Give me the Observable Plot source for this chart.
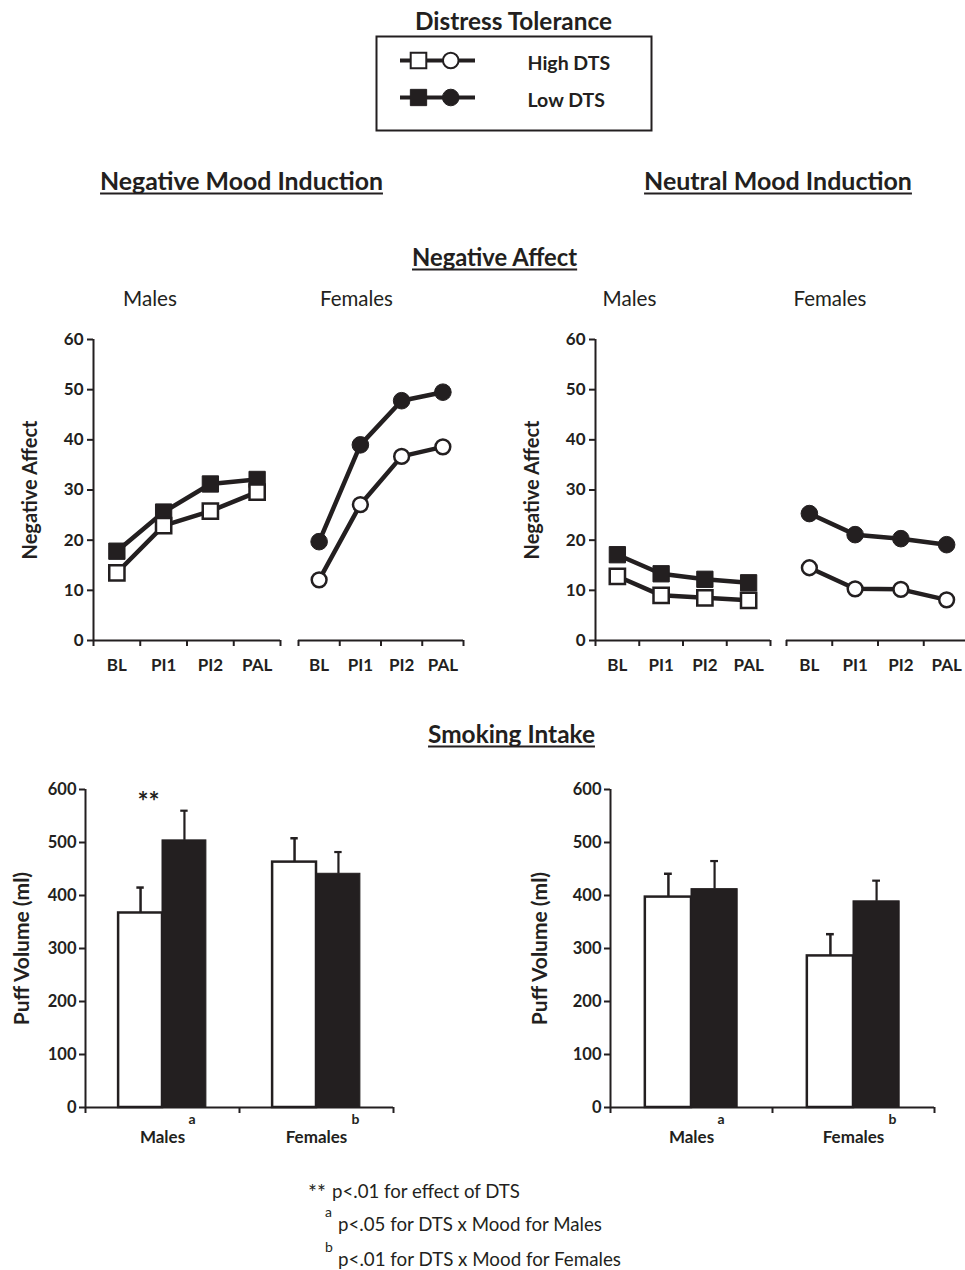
<!DOCTYPE html>
<html><head><meta charset="utf-8">
<script src="https://cdn.jsdelivr.net/npm/d3@7"></script>
<script src="https://cdn.jsdelivr.net/npm/@observablehq/plot@0.6"></script>
<style>
html,body{margin:0;padding:0;background:#fff;overflow:hidden}
#page{position:relative;width:965px;height:1270px;overflow:hidden;font-family:Lato,sans-serif;color:#231f20}
#page svg{position:absolute}
</style></head><body><div id="page"></div>
<script>
// ---------- data ----------
const timepoints = ["BL", "PI1", "PI2", "PAL"];
const dtsLevels = ["High DTS", "Low DTS"];
const affectTicks = [0, 10, 20, 30, 40, 50, 60];
// Negative mood induction – Negative Affect
const negMalesHigh = [13.5, 22.9, 25.8, 29.6];
const negMalesLow = [17.8, 25.6, 31.2, 32.1];
const negFemalesHigh = [12.1, 27.1, 36.7, 38.6];
const negFemalesLow = [19.7, 39.0, 47.8, 49.5];
// Neutral mood induction – Negative Affect
const neuMalesHigh = [12.8, 9.0, 8.5, 8.0];
const neuMalesLow = [17.1, 13.3, 12.2, 11.5];
const neuFemalesHigh = [14.5, 10.3, 10.2, 8.1];
const neuFemalesLow = [25.3, 21.1, 20.3, 19.1];
// Smoking intake – puff volume (ml)
const sexes = ["Males", "Females"];
const superscripts = ["a", "b"];
const puffTicks = [0, 100, 200, 300, 400, 500, 600];
const negPuffHigh = [367, 463];
const negPuffHighSE = [48, 45];
const negPuffLow = [504, 441];
const negPuffLowSE = [56, 41];
const neuPuffHigh = [397, 286];
const neuPuffHighSE = [44, 41];
const neuPuffLow = [412, 389];
const neuPuffLowSE = [53, 39];

// ---------- layout ----------
const INK = "#231f20";
const page = document.getElementById("page");
function place(node, left, top) {
  node.style.left = left + "px";
  node.style.top = top + "px";
  page.appendChild(node);
}
const baseStyle = {background: "transparent", overflow: "visible", fontFamily: "Lato, sans-serif", color: INK};

// overlay for headings and footnotes
const overlay = d3.create("svg").attr("width", 965).attr("height", 1270)
  .style("left", "0px").style("top", "0px").style("font-family", "Lato, sans-serif");
page.appendChild(overlay.node());
function addText(str, {x, y, size, weight = "normal", anchor = "start", width = null, underline = false}) {
  const t = overlay.append("text").attr("x", x).attr("y", y).attr("text-anchor", anchor)
    .attr("font-size", size).attr("font-weight", weight).attr("fill", INK).text(str);
  if (width) {
    const w = t.node().getComputedTextLength();
    t.attr("font-size", size * width / w);
  }
  if (underline) {
    const bb = t.node().getBBox();
    overlay.append("line").attr("x1", bb.x).attr("x2", bb.x + bb.width)
      .attr("y1", y + 3.5).attr("y2", y + 3.5).attr("stroke", INK).attr("stroke-width", 2);
  }
  return t;
}
addText("Distress Tolerance", {x: 513.5, y: 30, size: 24, weight: "bold", anchor: "middle", width: 197});
addText("Negative Mood Induction", {x: 241.5, y: 190, size: 24, weight: "bold", anchor: "middle", width: 283, underline: true});
addText("Neutral Mood Induction", {x: 778, y: 190, size: 24, weight: "bold", anchor: "middle", width: 268, underline: true});
addText("Negative Affect", {x: 494.5, y: 266, size: 24, weight: "bold", anchor: "middle", width: 165, underline: true});
addText("Smoking Intake", {x: 511.5, y: 743, size: 24, weight: "bold", anchor: "middle", width: 167, underline: true});
addText("Males", {x: 150, y: 306, size: 20, anchor: "middle", width: 54});
addText("Females", {x: 356.5, y: 306, size: 20, anchor: "middle", width: 73});
addText("Males", {x: 629.5, y: 306, size: 20, anchor: "middle", width: 54});
addText("Females", {x: 830, y: 306, size: 20, anchor: "middle", width: 73});
addText("**", {x: 308, y: 1200, size: 21});
addText("p<.01 for effect of DTS", {x: 332, y: 1198, size: 19, width: 188});
addText(superscripts[0], {x: 325, y: 1217, size: 14});
addText("p<.05 for DTS x Mood for Males", {x: 338, y: 1231, size: 19, width: 264});
addText(superscripts[1], {x: 325, y: 1252, size: 14});
addText("p<.01 for DTS x Mood for Females", {x: 338, y: 1266, size: 19, width: 283});

// ---------- legend ----------
const legendHigh = dtsLevels.filter((d, i) => i === 0);
const legendLow = dtsLevels.filter((d, i) => i === 1);
place(Plot.plot({
  width: 277, height: 96, margin: 0, style: baseStyle,
  x: {domain: [0, 1], range: [25, 100], axis: null},
  y: {type: "point", domain: dtsLevels, range: [25, 62], padding: 0, axis: null},
  marks: [
    Plot.frame({inset: 1, stroke: INK, strokeWidth: 2}),
    Plot.ruleY(dtsLevels, {y: d => d, x1: 0, x2: 1, stroke: INK, strokeWidth: 4}),
    Plot.dot(legendHigh, {x: 0.24, y: d => d, symbol: "square", r: 8.8, fill: "white", stroke: INK, strokeWidth: 2}),
    Plot.dot(legendHigh, {x: 0.67, y: d => d, symbol: "circle", r: 7.8, fill: "white", stroke: INK, strokeWidth: 2}),
    Plot.dot(legendLow, {x: 0.24, y: d => d, symbol: "square", r: 9.2, fill: INK, stroke: INK, strokeWidth: 1}),
    Plot.dot(legendLow, {x: 0.67, y: d => d, symbol: "circle", r: 8.3, fill: INK, stroke: INK, strokeWidth: 1}),
    Plot.text(dtsLevels, {x: 1, y: d => d, text: d => d, dx: 52, dy: 3, textAnchor: "start", fontSize: 19.5, fontWeight: "bold", fill: INK})
  ]
}), 375, 35);

// ---------- negative affect line panels ----------
function affectPanel(high, low, marker, o) {
  const rows = (vals, dts) => vals.map((v, i) => ({i, t: timepoints[i], v, dts}));
  const hi = rows(high, dtsLevels[0]), lo = rows(low, dtsLevels[1]);
  const X = d => d.i + 0.5;
  const sq = marker === "square";
  const marks = [
    Plot.ruleY([0], {stroke: INK, strokeWidth: 2}),
    Plot.axisX({ticks: d3.range(timepoints.length + 1), tickSize: 6, tickFormat: () => "", stroke: INK, strokeWidth: 2, label: null}),
    Plot.axisX({ticks: timepoints.map((_, i) => i + 0.5), tickSize: 0, tickPadding: 18, tickFormat: x => timepoints[Math.floor(x)],
      fontSize: 17, fontWeight: "bold", fill: INK, label: null})
  ];
  if (o.yAxis) {
    marks.push(
      Plot.ruleX([0], {stroke: INK, strokeWidth: 2}),
      Plot.axisY({ticks: affectTicks, tickSize: 6, tickPadding: 4, stroke: INK, strokeWidth: 2, fontSize: 17, fontWeight: "bold", fill: INK, label: null}),
      Plot.text(["Negative Affect"], {text: d => d, frameAnchor: "left", textAnchor: "middle", lineAnchor: "middle", rotate: -90, dx: o.labelDx, fontSize: 20, fontWeight: "bold", fill: INK})
    );
  }
  marks.push(
    Plot.line(lo, {x: X, y: "v", stroke: INK, strokeWidth: 4.5}),
    Plot.dot(lo, {x: X, y: "v", symbol: marker, r: sq ? 9.2 : 8.3, fill: INK, stroke: INK, strokeWidth: 1}),
    Plot.line(hi, {x: X, y: "v", stroke: INK, strokeWidth: 4.5}),
    Plot.dot(hi, {x: X, y: "v", symbol: marker, r: sq ? 8.6 : 7.4, fill: "white", stroke: INK, strokeWidth: 2.5})
  );
  return Plot.plot({
    width: o.w, height: 360, marginLeft: o.mL, marginRight: o.mR, marginTop: 19, marginBottom: 40,
    style: baseStyle,
    x: {domain: [0, timepoints.length], axis: null},
    y: {domain: [0, 60], axis: null},
    marks
  });
}
place(affectPanel(negMalesHigh, negMalesLow, "square", {w: 290, mL: 93, mR: 10, yAxis: true, labelDx: -63}), 0, 320);
place(affectPanel(negFemalesHigh, negFemalesLow, "circle", {w: 180, mL: 8, mR: 7, yAxis: false}), 290, 320);
place(affectPanel(neuMalesHigh, neuMalesLow, "square", {w: 280, mL: 95, mR: 10, yAxis: true, labelDx: -62.5}), 500, 320);
place(affectPanel(neuFemalesHigh, neuFemalesLow, "circle", {w: 195, mL: 8, mR: 4, yAxis: false}), 778, 320);

// ---------- puff volume bar panels ----------
function puffPanel(high, highSE, low, lowSE, o) {
  const W = 0.285, cap = 0.024;
  const hi = sexes.map((s, i) => ({i, s, v: high[i], se: highSE[i], sup: superscripts[i]}));
  const lo = sexes.map((s, i) => ({i, s, v: low[i], se: lowSE[i]}));
  const cHi = d => d.i + 0.5 - W / 2, cLo = d => d.i + 0.5 + W / 2;
  const marks = [
    Plot.rect(hi, {x1: d => d.i + 0.5 - W, x2: d => d.i + 0.5, y1: 0, y2: "v", fill: "white", stroke: INK, strokeWidth: 2.5}),
    Plot.rect(lo, {x1: d => d.i + 0.5, x2: d => d.i + 0.5 + W, y1: 0, y2: "v", fill: INK, stroke: INK, strokeWidth: 1}),
    Plot.ruleX(hi, {x: cHi, y1: "v", y2: d => d.v + d.se, stroke: INK, strokeWidth: 2.5}),
    Plot.ruleY(hi, {y: d => d.v + d.se, x1: d => cHi(d) - cap, x2: d => cHi(d) + cap, stroke: INK, strokeWidth: 2.5}),
    Plot.ruleX(lo, {x: cLo, y1: "v", y2: d => d.v + d.se, stroke: INK, strokeWidth: 2.2}),
    Plot.ruleY(lo, {y: d => d.v + d.se, x1: d => cLo(d) - cap, x2: d => cLo(d) + cap, stroke: INK, strokeWidth: 2.2}),
    Plot.ruleY([0], {stroke: INK, strokeWidth: 2}),
    Plot.ruleX([0], {stroke: INK, strokeWidth: 2}),
    Plot.axisY({ticks: puffTicks, tickSize: 6, tickPadding: 3, stroke: INK, strokeWidth: 2, fontSize: 16.5, fontWeight: "bold", fill: INK, label: null}),
    Plot.axisX({ticks: d3.range(sexes.length + 1), tickSize: 6, tickFormat: () => "", stroke: INK, strokeWidth: 2, label: null}),
    Plot.axisX({ticks: sexes.map((_, i) => i + 0.5), tickSize: 0, tickPadding: 23, tickFormat: x => sexes[Math.floor(x)],
      fontSize: 17, fontWeight: "bold", fill: INK, label: null}),
    Plot.text(hi.filter(d => d.i === 0), {x: d => d.i + 0.5, y: 0, text: "sup", dx: 26, dy: 16, textAnchor: "start", lineAnchor: "bottom", fontSize: 14, fontWeight: "bold", fill: INK}),
    Plot.text(hi.filter(d => d.i === 1), {x: d => d.i + 0.5, y: 0, text: "sup", dx: 35, dy: 16, textAnchor: "start", lineAnchor: "bottom", fontSize: 14, fontWeight: "bold", fill: INK}),
    Plot.text(["Puff Volume (ml)"], {text: d => d, frameAnchor: "left", textAnchor: "middle", lineAnchor: "middle", rotate: -90, dx: o.labelDx, fontSize: 21, fontWeight: "bold", fill: INK})
  ];
  if (o.stars) {
    marks.push(Plot.text([o.stars], {x: 0.5, y: 600, text: d => d, dx: -14, dy: 21, lineAnchor: "bottom", fontSize: 26, fontWeight: "bold", fill: INK}));
  }
  return Plot.plot({
    width: o.w, height: 390, marginLeft: o.mL, marginRight: o.mR, marginTop: 19, marginBottom: 53,
    style: baseStyle,
    x: {domain: [0, sexes.length], axis: null},
    y: {domain: [0, 600], axis: null},
    marks
  });
}
place(puffPanel(negPuffHigh, negPuffHighSE, negPuffLow, negPuffLowSE, {w: 400, mL: 85, mR: 7, labelDx: -63.5, stars: "**"}), 0, 770);
place(puffPanel(neuPuffHigh, neuPuffHighSE, neuPuffLow, neuPuffLowSE, {w: 420, mL: 90, mR: 6, labelDx: -70}), 520, 770);
</script></body></html>
